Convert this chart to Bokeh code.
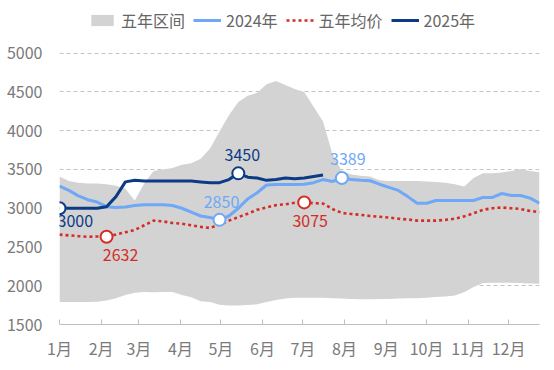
from bokeh.plotting import figure
from bokeh.models import (ColumnDataSource, FixedTicker, Legend, LegendItem,
                          Range1d)
from bokeh.core.properties import value
from bokeh.embed import file_html
from bokeh.resources import INLINE

FONT = "Noto Sans CJK SC"

# ---------------- data ----------------
month_labels = ["1月", "2月", "3月", "4月", "5月", "6月",
                "7月", "8月", "9月", "10月", "11月", "12月"]
month_start_days = [0, 31, 59, 90, 120, 151, 181, 212, 243, 273, 304, 334]
y_ticks = [1500, 2000, 2500, 3000, 3500, 4000, 4500, 5000]

week_index = list(range(52))  # weekly points, week 0 = Jan 1

band_high = [3410, 3350, 3330, 3320, 3320, 3310, 3290, 3250, 3100, 3320,
             3480, 3500, 3520, 3560, 3580, 3640, 3770, 3990, 4200, 4370,
             4450, 4490, 4600, 4640, 4590, 4540, 4500, 4310, 4120, 3700,
             3480, 3435, 3420, 3410, 3360, 3350, 3350, 3350, 3350, 3345,
             3340, 3330, 3310, 3280, 3390, 3450, 3450, 3460, 3480, 3505,
             3480, 3465]
band_low = [1790, 1790, 1790, 1790, 1795, 1810, 1840, 1880, 1910, 1920,
            1915, 1920, 1920, 1880, 1850, 1800, 1790, 1755, 1745, 1745,
            1750, 1760, 1790, 1815, 1835, 1845, 1845, 1845, 1845, 1840,
            1835, 1830, 1825, 1825, 1830, 1830, 1835, 1840, 1840, 1845,
            1855, 1860, 1875, 1915, 1985, 2035, 2040, 2040, 2040, 2035,
            2030, 2025]
price_2024 = [3285, 3230, 3160, 3110, 3080, 3020, 3010, 3015, 3035, 3045,
              3045, 3045, 3035, 3000, 2950, 2900, 2880, 2850, 2900, 3000,
              3120, 3200, 3300, 3305, 3305, 3305, 3310, 3330, 3370, 3345,
              3389, 3370, 3360, 3355, 3310, 3270, 3230, 3150, 3065, 3065,
              3100, 3100, 3100, 3100, 3100, 3140, 3140, 3190, 3165, 3165,
              3130, 3065]
avg_5yr = [2660, 2650, 2640, 2632, 2635, 2632, 2660, 2690, 2720, 2780,
           2840, 2830, 2810, 2800, 2780, 2760, 2745, 2790, 2840, 2885,
           2930, 2980, 3010, 3040, 3050, 3070, 3075, 3065, 3060, 2990,
           2940, 2925, 2915, 2900, 2890, 2880, 2865, 2855, 2840, 2840,
           2840, 2850, 2865, 2895, 2935, 2980, 3000, 3010, 3000, 2990,
           2965, 2950]
price_2025 = [3000, 3000, 3000, 3000, 3000, 3020, 3150, 3340, 3360, 3350,
              3350, 3350, 3350, 3350, 3350, 3340, 3330, 3330, 3370, 3450,
              3400, 3390, 3360, 3370, 3390, 3380, 3390, 3410, 3430]

# annotated points
ann_week = [0, 5, 17, 19, 26, 30]
ann_value = [3000, 2632, 2850, 3450, 3075, 3389]
ann_text = ["3000", "2632", "2850", "3450", "3075", "3389"]
ann_color = ["#0C3B85", "#D42D25", "#6FA8F6", "#0C3B85", "#D42D25", "#6FA8F6"]
ann_dx = [-2, 14, 2, 4, 6, 6]
ann_dy = [13, 18, -18, -18, 19, -19]
ann_align = ["left", "center", "center", "center", "center", "center"]

# ---------------- build ----------------
days = [w * 7 for w in week_index]
src = ColumnDataSource(dict(day=days, high=band_high, low=band_low,
                            p24=price_2024, avg=avg_5yr))
src25 = ColumnDataSource(dict(day=days[:len(price_2025)], p25=price_2025))
src_ann = ColumnDataSource(dict(day=[w * 7 for w in ann_week], val=ann_value,
                                txt=ann_text, col=ann_color, dx=ann_dx,
                                dy=ann_dy, align=ann_align))

p = figure(width=546, height=362, output_backend="svg", toolbar_location=None,
           x_range=Range1d(0, 357), y_range=Range1d(1500, 5577),
           min_border_left=59, min_border_right=7, min_border_top=8,
           min_border_bottom=36)
p.outline_line_color = None
p.background_fill_color = "white"
p.border_fill_color = "white"

band = p.varea(x="day", y1="low", y2="high", source=src, fill_color="#D3D3D3")
l24 = p.line("day", "p24", source=src, line_color="#6FA8F6", line_width=3)
lavg = p.line("day", "avg", source=src, line_color="#D42D25", line_width=2.6,
              line_dash="3 3")
l25 = p.line("day", "p25", source=src25, line_color="#0C3B85", line_width=3)

p.scatter("day", "val", source=src_ann, size=12, fill_color="white",
          line_color="col", line_width=2)
p.text("day", "val", text="txt", source=src_ann, text_color="col",
       x_offset="dx", y_offset="dy", text_align="align",
       text_baseline="middle", text_font=value(FONT), text_font_size="16px")

# axes
p.yaxis.ticker = FixedTicker(ticks=y_ticks)
p.yaxis.axis_line_color = None
p.yaxis.major_tick_line_color = None
p.yaxis.minor_tick_line_color = None
p.yaxis.major_label_standoff = 11
p.yaxis.major_label_text_font = FONT
p.yaxis.major_label_text_font_size = "16px"
p.yaxis.major_label_text_color = "#7A7A7A"

p.xaxis.ticker = FixedTicker(ticks=month_start_days)
p.xaxis.major_label_overrides = {d: m for d, m in zip(month_start_days, month_labels)}
p.xaxis.axis_line_color = "#BFBFBF"
p.xaxis.major_tick_line_color = "#BFBFBF"
p.xaxis.major_tick_in = 5
p.xaxis.major_tick_out = 0
p.xaxis.minor_tick_line_color = None
p.xaxis.major_label_standoff = 11
p.xaxis.major_label_text_font = FONT
p.xaxis.major_label_text_font_size = "16px"
p.xaxis.major_label_text_color = "#7A7A7A"

p.xgrid.grid_line_color = None
p.ygrid.grid_line_color = "#C4C4C4"
p.ygrid.grid_line_dash = "4 3"

legend = Legend(items=[LegendItem(label="五年区间", renderers=[band]),
                       LegendItem(label="2024年", renderers=[l24]),
                       LegendItem(label="五年均价", renderers=[lavg]),
                       LegendItem(label="2025年", renderers=[l25])],
                orientation="horizontal", location=(29, 292), padding=0,
                margin=0, spacing=8, label_standoff=5, glyph_width=28,
                glyph_height=14, label_text_font=FONT,
                label_text_font_size="16px", label_text_color="#666666",
                border_line_color=None, background_fill_alpha=0)
p.add_layout(legend)

open("out.html", "w").write(file_html(p, INLINE))
